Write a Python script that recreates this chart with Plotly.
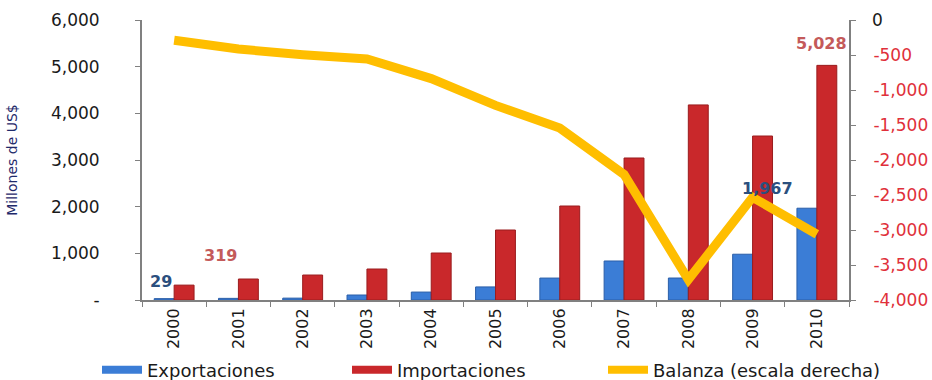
import plotly.graph_objects as go

years = ["2000", "2001", "2002", "2003", "2004", "2005", "2006", "2007", "2008", "2009", "2010"]
exportaciones = [29, 35, 40, 107, 170, 280, 470, 836, 471, 981, 1967]
importaciones = [319, 450, 535, 664, 1007, 1500, 2014, 3043, 4180, 3514, 5028]
balanza = [-290, -415, -495, -557, -837, -1220, -1544, -2207, -3709, -2533, -3061]

left_vals = [0, 1000, 2000, 3000, 4000, 5000, 6000]
left_text = ["-", "1,000", "2,000", "3,000", "4,000", "5,000", "6,000"]
right_vals = [0, -500, -1000, -1500, -2000, -2500, -3000, -3500, -4000]
right_text = ["", "-500", "-1,000", "-1,500", "-2,000", "-2,500", "-3,000", "-3,500", "-4,000"]

FONT = "DejaVu Sans, Arial, sans-serif"
BLUE = "#3B7DD6"
RED = "#C9282B"
GOLD = "#FFBE00"

fig = go.Figure()
fig.add_trace(go.Bar(name="Exportaciones", x=years, y=exportaciones, showlegend=False,
                     marker=dict(color=BLUE, line=dict(color="#2A5EA8", width=1))))
fig.add_trace(go.Bar(name="Importaciones", x=years, y=importaciones, showlegend=False,
                     marker=dict(color=RED, line=dict(color="#9A1C1E", width=1))))
fig.add_trace(go.Scatter(name="Balanza (escala derecha)", x=years, y=balanza, yaxis="y2",
                         mode="lines", line=dict(color=GOLD, width=9), showlegend=False))
# legend entries (long rectangular symbols as in the original), each in its own legend box
for nm, col, lg in [("Exportaciones", BLUE, "legend"), ("Importaciones", RED, "legend2"),
                    ("Balanza (escala derecha)", GOLD, "legend3")]:
    fig.add_trace(go.Scatter(name=nm, x=[None], y=[None], mode="lines", legend=lg,
                             line=dict(color=col, width=8), showlegend=True))

ann = [
    dict(x=0, y=exportaciones[0], text="29", xshift=-13, yshift=17,
         font=dict(color="#2B4F7E", size=16, family=FONT, weight="bold")),
    dict(x=0, y=importaciones[0], text="319", xshift=46, yshift=30,
         font=dict(color="#C45A5A", size=16, family=FONT, weight="bold")),
    dict(x=10, y=exportaciones[10], text="1,967", xshift=-49, yshift=20,
         font=dict(color="#2B4F7E", size=16, family=FONT, weight="bold")),
    dict(x=10, y=importaciones[10], text="5,028", xshift=5, yshift=22,
         font=dict(color="#C45A5A", size=16, family=FONT, weight="bold")),
    dict(x=1, xref="paper", y=0, yref="y2", text="0", xanchor="left", xshift=21,
         font=dict(color="#1a1a1a", size=17, family=FONT)),
]
for a in ann:
    a.setdefault("xref", "x")
    a.setdefault("yref", "y")
    a["showarrow"] = False

W, H = 932, 380
leg_common = dict(orientation="h", xref="container", yref="container",
                  y=(H - 370) / H, xanchor="left", yanchor="middle",
                  font=dict(size=18, color="#1a1a1a"), itemwidth=40,
                  bgcolor="rgba(0,0,0,0)")

fig.update_layout(
    width=W, height=H,
    margin=dict(l=142, r=83, t=20, b=80, autoexpand=False),
    paper_bgcolor="white", plot_bgcolor="white",
    barmode="group", bargap=0.38, bargroupgap=0,
    font=dict(family=FONT, size=17, color="#1a1a1a"),
    showlegend=True,
    legend=dict(x=97 / W, **leg_common),
    legend2=dict(x=347 / W, **leg_common),
    legend3=dict(x=603 / W, **leg_common),
    xaxis=dict(type="category", range=[-0.5, 10.5], showline=True, linecolor="#808080", linewidth=2,
               ticks="outside", tickson="boundaries", ticklen=5, tickcolor="#808080",
               tickangle=-90, tickfont=dict(size=16, color="#1a1a1a"), showgrid=False),
    yaxis=dict(range=[0, 6000], tickvals=left_vals, ticktext=left_text,
               showline=True, linecolor="#808080", linewidth=2, ticks="outside",
               ticklen=5, tickcolor="#808080", showgrid=False, zeroline=False,
               ticklabelstandoff=32, tickfont=dict(size=17, color="#1a1a1a"),
               title=dict(text="Millones de US$", font=dict(size=14, color="#1F2A6B"),
                          standoff=30)),
    yaxis2=dict(overlaying="y", side="right", range=[-4000, 0],
                tickvals=right_vals, ticktext=right_text,
                showline=True, linecolor="#808080", linewidth=2, ticks="outside",
                ticklen=5, tickcolor="#808080", showgrid=False, zeroline=False,
                ticklabelstandoff=14, tickfont=dict(size=17, color="#E0303A")),
    annotations=ann,
)

fig.write_html("out.html")
